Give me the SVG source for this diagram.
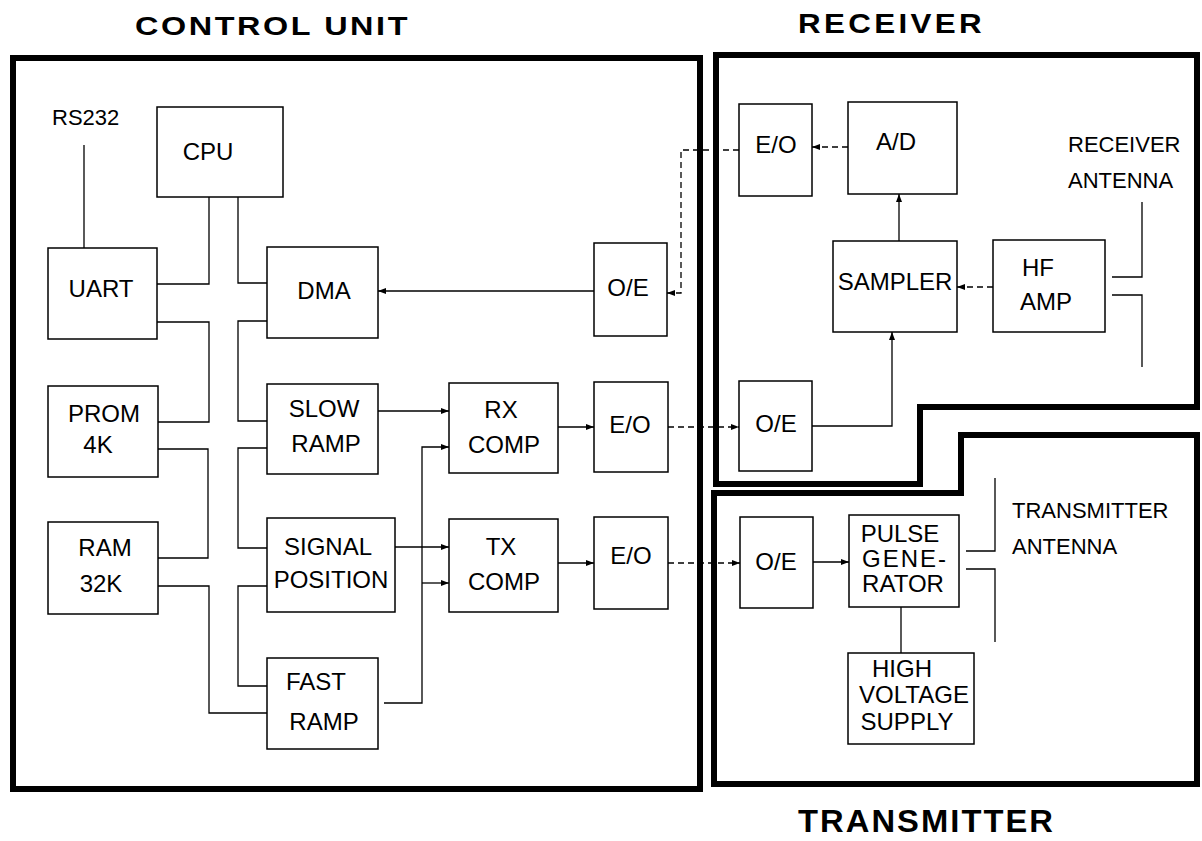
<svg xmlns="http://www.w3.org/2000/svg" width="1202" height="841" viewBox="0 0 1202 841">
<style>
.frame{fill:none;stroke:#000;stroke-width:6;stroke-linejoin:miter}
.box{fill:#fff;stroke:#000;stroke-width:1.5}
.t{font-family:"Liberation Sans",Arial,sans-serif;font-size:24px;fill:#000;text-anchor:middle}
.lbl{font-family:"Liberation Sans",Arial,sans-serif;font-size:22px;fill:#000}
.title{font-family:"Liberation Sans",Arial,sans-serif;font-weight:bold;fill:#000}
.w{fill:none;stroke:#000;stroke-width:1.3}
.d{fill:none;stroke:#000;stroke-width:1.3;stroke-dasharray:6 4}
</style>
<defs>
<marker id="ah" markerUnits="userSpaceOnUse" markerWidth="8" markerHeight="6" refX="8" refY="3" orient="auto">
<path d="M0,0 L8,3 L0,6 z" fill="#000"/>
</marker>
</defs>
<rect width="1202" height="841" fill="#fff"/>

<g id="frames">
<rect class="frame" x="13" y="58" width="687" height="731"/>
<path class="frame" d="M716,55 H1197 V407 H920 V484 H716 Z"/>
<path class="frame" d="M714,493 H961 V435 H1197 V784 H714 Z"/>
</g>

<g id="titles">
<text class="title" x="135" y="35" font-size="25" letter-spacing="2" textLength="275" lengthAdjust="spacingAndGlyphs">CONTROL UNIT</text>
<text class="title" x="798" y="33" font-size="28" letter-spacing="3" textLength="187" lengthAdjust="spacingAndGlyphs">RECEIVER</text>
<text class="title" x="798" y="832" font-size="32" letter-spacing="2" textLength="257" lengthAdjust="spacingAndGlyphs">TRANSMITTER</text>
</g>

<g id="connectors">
<path class="w" d="M84,145 V248"/>
<path class="w" d="M209,197 V284 H157"/>
<path class="w" d="M238,197 V283 H267"/>
<path class="w" d="M157,322 H209 V422 H158"/>
<path class="w" d="M267,321 H238 V421 H267"/>
<path class="w" d="M158,449 H208 V558 H158"/>
<path class="w" d="M267,448 H238 V548 H267"/>
<path class="w" d="M158,586 H209 V713 H267"/>
<path class="w" d="M267,586 H238 V686 H267"/>
<path class="w" d="M594,291 H378" marker-end="url(#ah)"/>
<path class="w" d="M378,411 H449" marker-end="url(#ah)"/>
<path class="w" d="M384,703 H422 V447 H449" marker-end="url(#ah)"/>
<path class="w" d="M422,583 H449" marker-end="url(#ah)"/>
<path class="w" d="M395,547 H449" marker-end="url(#ah)"/>
<path class="w" d="M558,427 H594" marker-end="url(#ah)"/>
<path class="w" d="M558,563 H594" marker-end="url(#ah)"/>
<path class="d" d="M668,427 H739" marker-end="url(#ah)"/>
<path class="d" d="M668,563 H740" marker-end="url(#ah)"/>
<path class="d" d="M739,150 H681 V293 H667" marker-end="url(#ah)"/>
<path class="d" d="M848,147 H812" marker-end="url(#ah)"/>
<path class="w" d="M899,241 V194" marker-end="url(#ah)"/>
<path class="d" d="M993,287 H957" marker-end="url(#ah)"/>
<path class="w" d="M812,426 H892 V332" marker-end="url(#ah)"/>
<path class="w" d="M1112,277 H1142 V202"/>
<path class="w" d="M1112,295 H1142 V367"/>
<path class="w" d="M813,562 H849" marker-end="url(#ah)"/>
<path class="w" d="M901,607 V653"/>
<path class="w" d="M966,551 H995 V478"/>
<path class="w" d="M966,569 H995 V642"/>
</g>

<g id="rs232"><text class="lbl" x="52" y="125" font-size="22">RS232</text></g>
<g id="cpu"><rect class="box" x="157" y="107" width="126" height="90"/><text class="t" x="208" y="160">CPU</text></g>
<g id="uart"><rect class="box" x="48" y="248" width="109" height="91"/><text class="t" x="101" y="297">UART</text></g>
<g id="dma"><rect class="box" x="267" y="247" width="111" height="91"/><text class="t" x="324" y="299">DMA</text></g>
<g id="prom"><rect class="box" x="48" y="386" width="110" height="91"/><text class="t" x="104" y="422">PROM</text><text class="t" x="98" y="453">4K</text></g>
<g id="ram"><rect class="box" x="48" y="522" width="110" height="92"/><text class="t" x="105" y="556">RAM</text><text class="t" x="101" y="592">32K</text></g>
<g id="slow-ramp"><rect class="box" x="267" y="384" width="111" height="90"/><text class="t" x="324" y="417">SLOW</text><text class="t" x="326" y="452">RAMP</text></g>
<g id="signal-position"><rect class="box" x="267" y="518" width="128" height="94"/><text class="t" x="328" y="555">SIGNAL</text><text class="t" x="331" y="588">POSITION</text></g>
<g id="fast-ramp"><rect class="box" x="267" y="658" width="111" height="91"/><text class="t" x="316" y="690">FAST</text><text class="t" x="324" y="730">RAMP</text></g>
<g id="rx-comp"><rect class="box" x="449" y="383" width="109" height="90"/><text class="t" x="501" y="418">RX</text><text class="t" x="504" y="453">COMP</text></g>
<g id="tx-comp"><rect class="box" x="449" y="519" width="109" height="93"/><text class="t" x="501" y="555">TX</text><text class="t" x="504" y="590">COMP</text></g>
<g id="oe-control"><rect class="box" x="594" y="243" width="73" height="93"/><text class="t" x="628" y="296">O/E</text></g>
<g id="eo-control-rx"><rect class="box" x="594" y="382" width="74" height="90"/><text class="t" x="630" y="433">E/O</text></g>
<g id="eo-control-tx"><rect class="box" x="594" y="517" width="74" height="92"/><text class="t" x="631" y="564">E/O</text></g>

<g id="eo-receiver"><rect class="box" x="739" y="104" width="73" height="92"/><text class="t" x="776" y="153">E/O</text></g>
<g id="ad"><rect class="box" x="848" y="102" width="109" height="92"/><text class="t" x="896" y="150">A/D</text></g>
<g id="sampler"><rect class="box" x="833" y="241" width="124" height="91"/><text class="t" x="895" y="290">SAMPLER</text></g>
<g id="hf-amp"><rect class="box" x="993" y="240" width="112" height="92"/><text class="t" x="1038" y="276">HF</text><text class="t" x="1046" y="310">AMP</text></g>
<g id="oe-receiver"><rect class="box" x="739" y="381" width="73" height="90"/><text class="t" x="776" y="432">O/E</text></g>
<g id="receiver-antenna"><text class="lbl" x="1068" y="152">RECEIVER</text><text class="lbl" x="1068" y="188">ANTENNA</text></g>

<g id="oe-transmitter"><rect class="box" x="740" y="517" width="73" height="91"/><text class="t" x="776" y="570">O/E</text></g>
<g id="pulse-generator"><rect class="box" x="849" y="515" width="110" height="92"/><text class="t" x="900" y="542" font-size="22">PULSE</text><text class="t" x="905" y="567" font-size="22" letter-spacing="2">GENE-</text><text class="t" x="903" y="592" font-size="22">RATOR</text></g>
<g id="high-voltage-supply"><rect class="box" x="848" y="653" width="126" height="91"/><text class="t" x="902" y="677">HIGH</text><text class="t" x="914" y="703">VOLTAGE</text><text class="t" x="907" y="730">SUPPLY</text></g>
<g id="transmitter-antenna"><text class="lbl" x="1012" y="518" font-size="23">TRANSMITTER</text><text class="lbl" x="1012" y="554">ANTENNA</text></g>
</svg>
